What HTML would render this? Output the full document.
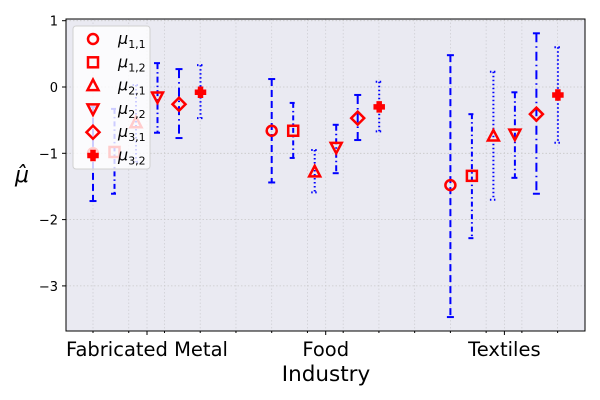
<!DOCTYPE html>
<html><head><meta charset="utf-8"><style>
html,body{margin:0;padding:0;background:#fff;}
svg{display:block;font-family:"DejaVu Sans","Liberation Sans",sans-serif;}
</style></head><body>
<svg id="chart" width="600" height="400">
<rect x="66" y="19" width="519" height="312" fill="#eaeaf2"/>
<g id="grid"></g><g id="bars"></g><g id="axes"></g><g id="legend"></g>
</svg>
<script>
const categories=["Fabricated Metal","Food","Textiles"];
const seriesNames=["μ1,1","μ1,2","μ2,1","μ2,2","μ3,1","μ3,2"];
const means=[[-1.0,-0.98,-0.54,-0.15,-0.26,-0.08],[-0.66,-0.66,-1.28,-0.91,-0.47,-0.30],[-1.48,-1.34,-0.74,-0.71,-0.41,-0.12]];
const upper=[[-0.3,-0.33,0.03,0.36,0.27,0.33],[0.12,-0.24,-0.95,-0.57,-0.12,0.08],[0.48,-0.41,0.23,-0.08,0.81,0.60]];
const lower=[[-1.72,-1.61,-1.13,-0.69,-0.77,-0.47],[-1.44,-1.07,-1.59,-1.30,-0.80,-0.67],[-3.47,-2.28,-1.70,-1.37,-1.61,-0.84]];
const yTicks=[1,0,-1,-2,-3];
const NS="http://www.w3.org/2000/svg";
const y=v=>87-66.3*v;
const catX=i=>147+178.7*i;
const serX=(i,j)=>catX(i)-54+21.5*j;
const dashes=["7,4","5,3,1.5,3","1.5,2.5","6,3,1.5,3","9,4,1.5,4","1.5,2.5"];
function el(t,a,p){const e=document.createElementNS(NS,t);for(const k in a)e.setAttribute(k,a[k]);p.appendChild(e);return e;}
function marker(g,j,cx,cy,s){
 const st={fill:"none",stroke:"#ff0000","stroke-width":2.5};let m;
 if(j==0)m=el("circle",Object.assign({cx,cy,r:5*s},st),g);
 else if(j==1)m=el("rect",Object.assign({x:cx-5*s,y:cy-5*s,width:10*s,height:10*s},st),g);
 else if(j==2)m=el("polygon",Object.assign({points:`${cx},${cy-6*s} ${cx+5.5*s},${cy+4.5*s} ${cx-5.5*s},${cy+4.5*s}`},st),g);
 else if(j==3)m=el("polygon",Object.assign({points:`${cx},${cy+6*s} ${cx+5.5*s},${cy-4.5*s} ${cx-5.5*s},${cy-4.5*s}`},st),g);
 else if(j==4)m=el("polygon",Object.assign({points:`${cx},${cy-6.5*s} ${cx+6.5*s},${cy} ${cx},${cy+6.5*s} ${cx-6.5*s},${cy}`},st),g);
 else {m=el("path",{d:`M${cx-2*s},${cy-5*s}h${4*s}v${3*s}h${3*s}v${4*s}h${-3*s}v${3*s}h${-4*s}v${-3*s}h${-3*s}v${-4*s}h${3*s}z`,fill:"#ff0000",stroke:"#ff0000","stroke-width":1.5},g);}
 return m;
}
const grid=document.getElementById("grid");
for(let k=0;k<14;k++){const x=93+35.74*k;if(x>585)break;el("line",{x1:x,x2:x,y1:19,y2:331,stroke:"#cfcfd4","stroke-width":0.8,"stroke-dasharray":"1.5,2"},grid);}
categories.forEach((c,i)=>el("line",{x1:catX(i),x2:catX(i),y1:19,y2:331,stroke:"#cfcfd4","stroke-width":0.8,"stroke-dasharray":"1.5,2"},grid));
yTicks.forEach(t=>el("line",{x1:66,x2:585,y1:y(t),y2:y(t),stroke:"#c8c8c8","stroke-width":0.8,"stroke-dasharray":"1.5,2"},grid));
const bars=document.getElementById("bars");
categories.forEach((c,i)=>{seriesNames.forEach((s,j)=>{
 const x=serX(i,j),g=el("g",{},bars);
 
 
 el("line",{x1:x,x2:x,y1:y(upper[i][j]),y2:y(lower[i][j]),stroke:"#0000ff","stroke-width":2,"stroke-dasharray":dashes[j]},g);
 el("line",{x1:x-3.5,x2:x+3.5,y1:y(upper[i][j]),y2:y(upper[i][j]),stroke:"#0000ff","stroke-width":2,"stroke-dasharray":dashes[j]},g);
 el("line",{x1:x-3.5,x2:x+3.5,y1:y(lower[i][j]),y2:y(lower[i][j]),stroke:"#0000ff","stroke-width":2,"stroke-dasharray":dashes[j]},g);
 const m=marker(g,j,x,y(means[i][j]),1);
 
 
});});
const ax=document.getElementById("axes");
el("rect",{x:66,y:19,width:519,height:312,fill:"none",stroke:"#000","stroke-width":1},ax);
yTicks.forEach(t=>{el("line",{x1:62,x2:66,y1:y(t),y2:y(t),stroke:"#000"},ax);
 const tx=el("text",{x:58,y:y(t)+5,"text-anchor":"end","font-size":13},ax);tx.textContent=t<0?"−"+(-t):t;
 
 });
for(let k=0;k<14;k++){const x=93+35.74*k;if(x>585)break;el("line",{x1:x,x2:x,y1:331,y2:333,stroke:"#000"},ax);}
categories.forEach((c,i)=>{el("line",{x1:catX(i),x2:catX(i),y1:331,y2:335,stroke:"#000"},ax);
 const tx=el("text",{x:catX(i),y:356,"text-anchor":"middle","font-size":19.5},ax);tx.textContent=c;
 
 });
const xl=el("text",{x:326,y:381,"text-anchor":"middle","font-size":21.5},ax);xl.textContent="Industry";


const yl=el("text",{x:22,y:182,"text-anchor":"middle","font-size":22,"font-style":"italic"},ax);yl.textContent="μ̂";


const lg=document.getElementById("legend");


el("rect",{x:73,y:26,width:77,height:143,rx:3,fill:"#ffffff","fill-opacity":0.8,stroke:"#d0d0d0"},lg);
seriesNames.forEach((s,j)=>{const yy=39+23.3*j;const g=el("g",{},lg);
 
 
 marker(g,j,93,yy,1);
 const t=el("text",{x:118,y:yy+5,"font-size":16,"font-style":"italic"},g);
 const p=s.slice(1).split(",");
 t.textContent="μ";const ts=el("tspan",{"font-size":11,dy:4,"font-style":"normal"},t);ts.textContent=p[0]+","+p[1];
});
</script>
</body></html>
